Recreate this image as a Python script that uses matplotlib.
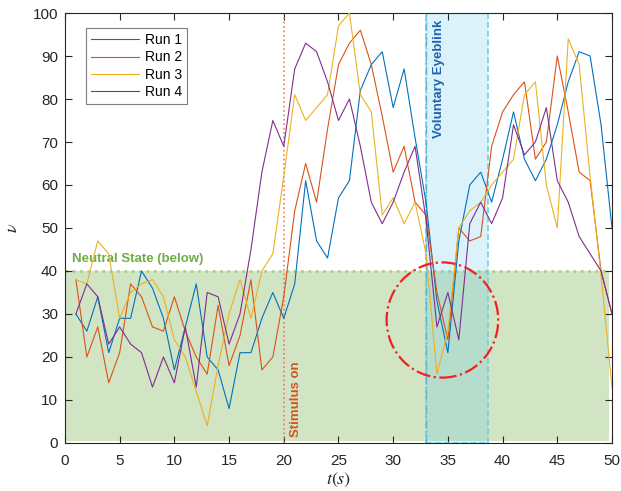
import matplotlib
matplotlib.use("Agg")
import matplotlib.pyplot as plt
from matplotlib.patches import Rectangle, Ellipse
import numpy as np

plt.rcParams['font.family'] = ['Liberation Sans', 'DejaVu Sans']
plt.rcParams['mathtext.fontset'] = 'stix'

# time steps
t = np.arange(1, 51)

run1 = [30, 26, 34, 21, 29, 29, 40, 36, 29, 17, 27, 37, 20, 17, 8, 21, 21, 29, 35, 29,
        37, 61, 47, 43, 57, 61, 82, 88, 91, 78, 87, 71, 56, 33, 21, 47, 60, 63, 56, 66,
        77, 66, 61, 66, 74, 84, 91, 90, 74, 50]
run2 = [38, 20, 27, 14, 21, 37, 34, 27, 26, 34, 26, 20, 16, 32, 18, 25, 38, 17, 20, 34,
        54, 65, 56, 73, 88, 93, 96, 88, 76, 63, 69, 56, 53, 35, 24, 50, 47, 48, 69, 77,
        81, 84, 66, 70, 90, 77, 63, 61, 40, 30]
run3 = [38, 37, 47, 44, 29, 35, 37, 38, 34, 24, 20, 12, 4, 18, 30, 38, 29, 40, 44, 62,
        81, 75, 78, 81, 97, 100, 81, 77, 53, 57, 51, 56, 44, 16, 26, 50, 54, 56, 60, 63,
        66, 81, 84, 60, 50, 94, 88, 62, 39, 13]
run4 = [30, 37, 34, 23, 27, 23, 21, 13, 20, 14, 27, 13, 35, 34, 23, 30, 45, 63, 75, 69,
        87, 93, 91, 84, 75, 80, 69, 56, 51, 56, 63, 69, 52, 27, 35, 24, 51, 56, 51, 57,
        74, 67, 70, 78, 61, 56, 48, 44, 40, 30]

runs = [run1, run2, run3, run4]
labels = ["Run 1", "Run 2", "Run 3", "Run 4"]
colors = ['#0072BD', '#D95319', '#EDB120', '#7E2F8E']

neutral_level = 40
stim_time = 20
blink_start, blink_end = 33, 38.7

fig = plt.figure(figsize=(6.21, 4.91), dpi=100)
ax = fig.add_axes([0.1046, 0.0978, 0.8809, 0.8757])

# neutral region
ax.fill_between([0, 49.7], 0.5, neutral_level, color='#70AD47', alpha=0.32,
                linewidth=0, zorder=1)
ax.plot([0, 49.7], [neutral_level, neutral_level], ':', color='#A9D18E', lw=2, zorder=1)
ax.text(0.6, 41.3, "Neutral State (below)", color='#70AD47', fontsize=9.5,
        fontweight='bold', va='bottom')

# eyeblink band
ax.add_patch(Rectangle((blink_start, 0), blink_end - blink_start, 100,
                       facecolor='#4DBEEE', alpha=0.2, edgecolor='none', zorder=1))
ax.add_patch(Rectangle((blink_start, 0), blink_end - blink_start, 100,
                       facecolor='none', edgecolor='#6FD0E0', ls='--', lw=1.2, zorder=2))
ax.axvline(blink_start, color='#5AB8D0', ls='-.', lw=1.0, zorder=2)
ax.text(34.15, 98.5, "Voluntary Eyeblink", rotation=90, color='#1F64AF',
        fontsize=9.5, fontweight='bold', ha='center', va='top')

# stimulus
ax.axvline(stim_time, color='#F07860', ls=':', lw=1.2, zorder=2)
ax.text(21.1, 1.3, "Stimulus on", rotation=90, color='#D95319', fontsize=9.5,
        fontweight='bold', ha='center', va='bottom')

for r, lab, c in zip(runs, labels, colors):
    ax.plot(t, r, color=c, lw=0.8, label=lab, zorder=3)

ax.add_patch(Ellipse((34.5, 28.6), 10.2, 26.8, facecolor='none', edgecolor='#EE2222',
                     ls='-.', lw=1.6, zorder=4))

ax.set_xlim(0, 50)
ax.set_ylim(0, 100)
ax.set_xticks(range(0, 51, 5))
ax.set_yticks(range(0, 101, 10))
ax.tick_params(direction='in', top=True, right=True, labelsize=11,
               colors='#262626', length=5)
ax.tick_params(axis='x', pad=8)
ax.tick_params(axis='y', pad=5)
for s in ax.spines.values():
    s.set_color('#262626')
    s.set_linewidth(0.8)
ax.set_xlabel("$t(s)$", fontsize=13, color='#262626', labelpad=2)
ax.set_ylabel(r"$\nu$", fontsize=13, color='#262626', labelpad=8)

leg = ax.legend(loc='upper left', bbox_to_anchor=(0.038, 0.965), fontsize=10,
                fancybox=False, edgecolor='#7F7F7F', framealpha=1, borderaxespad=0,
                handlelength=3.5, borderpad=0.35, labelspacing=0.25, handletextpad=0.4)
leg.get_frame().set_linewidth(0.8)

fig.savefig("out.png", dpi=100)
